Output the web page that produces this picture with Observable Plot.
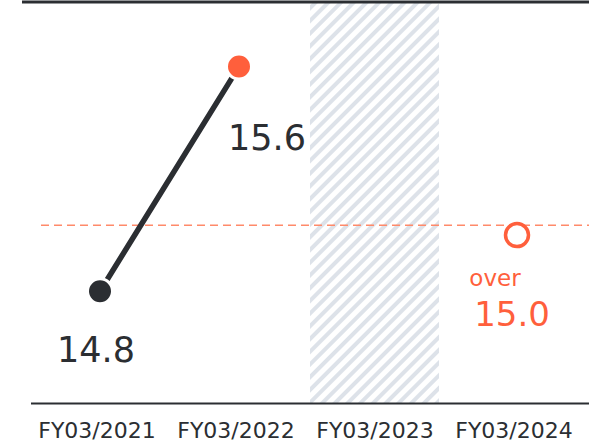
<!DOCTYPE html>
<html>
<head>
<meta charset="utf-8">
<script src="https://cdn.jsdelivr.net/npm/d3@7"></script>
<script src="https://cdn.jsdelivr.net/npm/@observablehq/plot@0.6"></script>
<style>
  html, body { margin: 0; padding: 0; background: #fff; }
  svg { display: block; }
</style>
</head>
<body>
<div id="chart"></div>
<script>
const categories = ["FY03/2021", "FY03/2022", "FY03/2023", "FY03/2024"];
const actualYears = ["FY03/2021", "FY03/2022"];
const actualValues = [14.8, 15.6];
const actualLabels = ["14.8", "15.6"];
const targetYear = "FY03/2024";
const targetValue = 15.0;
const targetWord = "over";
const targetLabel = "15.0";
const hatchedYear = "FY03/2023";
const targetLineValue = 15.035;
const yDomain = [14.4, 15.83];

const dark = "#2b2e32";
const orange = "#ff5f3c";
const pointColors = [dark, orange];

const actual = actualYears.map((c, i) => ({c, v: actualValues[i], label: actualLabels[i], color: pointColors[i]}));

const plot = Plot.plot({
  width: 589,
  height: 444,
  marginLeft: 29,
  marginRight: 2,
  marginTop: 1.5,
  marginBottom: 41,
  style: {fontFamily: "'DejaVu Sans', Verdana, sans-serif", background: "#fff"},
  x: {type: "band", domain: categories, paddingInner: 0.075, paddingOuter: 0.0375, label: null},
  y: {domain: yDomain, axis: null},
  marks: [
    Plot.barY([hatchedYear], {x: d => d, y1: yDomain[0], y2: yDomain[1], fill: "url(#hatch)", dx: -3}),
    Plot.ruleY([targetLineValue], {stroke: "#ff8a6a", strokeWidth: 1.5, strokeDasharray: "8,5", insetLeft: 12, insetRight: -2}),
    Plot.ruleY([yDomain[1]], {stroke: dark, strokeWidth: 3, insetLeft: -7, insetRight: -2}),
    Plot.ruleY([yDomain[0]], {stroke: dark, strokeWidth: 2, insetLeft: 2, insetRight: -2}),
    Plot.line(actual, {x: "c", y: "v", stroke: dark, strokeWidth: 5.5}),
    Plot.dot(actual, {x: "c", y: "v", r: 12.5, fill: d => d.color, stroke: "#fff", strokeWidth: 3}),
    Plot.dot([targetValue], {x: () => targetYear, y: d => d, r: 11.5, fill: "#fff", stroke: orange, strokeWidth: 3.5}),
    Plot.text([actual[0]], {x: "c", y: "v", text: "label", fontSize: 35, fill: dark, lineAnchor: "bottom", dx: -4, dy: 71}),
    Plot.text([actual[1]], {x: "c", y: "v", text: "label", fontSize: 35, fill: dark, lineAnchor: "bottom", dx: 28, dy: 83}),
    Plot.text([targetWord], {x: () => targetYear, y: () => targetValue, text: d => d, fontSize: 23, fill: orange, lineAnchor: "bottom", dx: -22, dy: 51}),
    Plot.text([targetLabel], {x: () => targetYear, y: () => targetValue, text: d => d, fontSize: 34, fill: orange, lineAnchor: "bottom", dx: -5, dy: 91}),
    Plot.axisX({tickSize: 0, tickPadding: 19, fontSize: 22, fill: dark, label: null, dx: -3})
  ]
});

d3.select(plot).insert("defs", ":first-child").html(
  `<pattern id="hatch" patternUnits="userSpaceOnUse" width="9" height="9" patternTransform="rotate(45)">
     <rect x="0" y="0" width="4" height="9" fill="#dde2e9"></rect>
   </pattern>`
);

document.getElementById("chart").appendChild(plot);
</script>
</body>
</html>
